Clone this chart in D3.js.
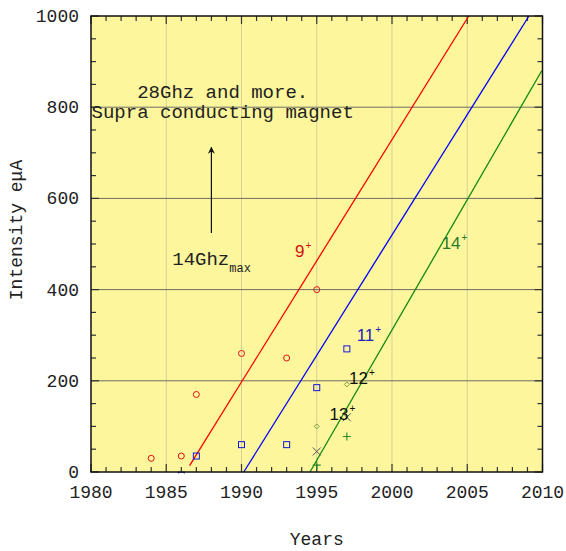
<!DOCTYPE html>
<html>
<head>
<meta charset="utf-8">
<script src="https://cdn.jsdelivr.net/npm/d3@7"></script>
<style>
  body { margin: 0; background: #fff; }
  text { font-family: "Liberation Mono", "Courier New", monospace; }
</style>
</head>
<body>
<div id="chart"></div>
<script>
// measured points (year, intensity eμA)
const redCircles = [[1984, 30], [1986, 35], [1987, 170], [1990, 260], [1993, 250], [1995, 400]];
const blueSquares = [[1986, -7], [1987, 35], [1990, 60], [1993, 60], [1995, 185], [1997, 270]];
const greenDiamonds = [[1995, 100], [1997, 192]];
const greenPlus = [[1995, 15], [1997, 78]];
const grayCross = [[1995, 45], [1997, 120]];

// trend lines (endpoints)
const redFit = [[1986.55, 14], [2005.1, 1000]];
const blueFit = [[1990.15, 0], [2009.1, 1000]];
const greenFit = [[1994.55, 0], [2009.95, 880]];

// charge state labels
const chargeLabels = [
  { q: "9", x: 1993.55, y: 472, color: "#cc1111" },
  { q: "11", x: 1997.65, y: 288, color: "#2222bb" },
  { q: "12", x: 1997.15, y: 193, color: "#111" },
  { q: "13", x: 1995.85, y: 114, color: "#111" },
  { q: "14", x: 2003.3, y: 489, color: "#2a7a2a" }
];

const xTicks = [1980, 1985, 1990, 1995, 2000, 2005, 2010];
const yTicks = [0, 200, 400, 600, 800, 1000];

const W = 566, H = 551;
const x = d3.scaleLinear().domain([1980, 2010]).range([91, 542.5]);
const y = d3.scaleLinear().domain([0, 1000]).range([472, 16]);

const svg = d3.select("#chart").append("svg")
    .attr("width", W).attr("height", H);

// plot background
svg.append("rect")
    .attr("x", x(1980)).attr("y", y(1000))
    .attr("width", x(2010) - x(1980)).attr("height", y(0) - y(1000))
    .style("fill", "#fdf69c");

svg.append("clipPath").attr("id", "clip")
  .append("rect")
    .attr("x", x(1980)).attr("y", y(1000))
    .attr("width", x(2010) - x(1980)).attr("height", y(0) - y(1000) + 1.5);

// grid
svg.append("g").selectAll("line")
    .data(xTicks.slice(1, -1)).enter().append("line")
    .attr("x1", d => x(d)).attr("x2", d => x(d))
    .attr("y1", y(0)).attr("y2", y(1000))
    .style("stroke", "#d6cf9a").style("stroke-width", 1);

svg.append("g").selectAll("line")
    .data(yTicks.slice(1, -1)).enter().append("line")
    .attr("x1", x(1980)).attr("x2", x(2010))
    .attr("y1", d => y(d)).attr("y2", d => y(d))
    .style("stroke", "#6e6e66").style("stroke-width", 1);

// ticks (inside, all four sides)
const xMinor = d3.range(1980, 2011, 1);
const yMinor = d3.range(0, 1001, 50);
const ticks = svg.append("g").style("stroke", "#333").style("stroke-width", 1.2);
xMinor.forEach(d => {
  const len = d % 5 === 0 ? 8 : 5;
  ticks.append("line").attr("x1", x(d)).attr("x2", x(d)).attr("y1", y(0)).attr("y2", y(0) - len);
  ticks.append("line").attr("x1", x(d)).attr("x2", x(d)).attr("y1", y(1000)).attr("y2", y(1000) + len);
});
yMinor.forEach(d => {
  const len = d % 200 === 0 ? 8 : 5;
  ticks.append("line").attr("x1", x(1980)).attr("x2", x(1980) + len).attr("y1", y(d)).attr("y2", y(d));
  ticks.append("line").attr("x1", x(2010)).attr("x2", x(2010) - len).attr("y1", y(d)).attr("y2", y(d));
});

// trend lines
const line = d3.line().x(d => x(d[0])).y(d => y(d[1]));
const fits = [[redFit, "#ff0000"], [blueFit, "#0000ff"], [greenFit, "#118811"]];
svg.append("g").selectAll("path")
    .data(fits).enter().append("path")
    .attr("d", d => line(d[0]))
    .style("fill", "none")
    .style("stroke", d => d[1])
    .style("stroke-width", 1.3);

// markers
const pts = svg.append("g").attr("clip-path", "url(#clip)");
pts.selectAll(".c").data(redCircles).enter().append("circle")
    .attr("cx", d => x(d[0])).attr("cy", d => y(d[1])).attr("r", 3)
    .style("fill", "none").style("stroke", "#dd1111").style("stroke-width", 1);
pts.selectAll(".s").data(blueSquares).enter().append("rect")
    .attr("x", d => x(d[0]) - 3).attr("y", d => y(d[1]) - 3)
    .attr("width", 6).attr("height", 6)
    .style("fill", "none").style("stroke", "#1515dd").style("stroke-width", 1);
pts.selectAll(".d").data(greenDiamonds).enter().append("path")
    .attr("d", d => `M${x(d[0])},${y(d[1]) - 2.5}l2.5,2.5l-2.5,2.5l-2.5,-2.5z`)
    .style("fill", "none").style("stroke", "#6a9a3a").style("stroke-width", 0.9);
pts.selectAll(".p").data(greenPlus).enter().append("path")
    .attr("d", d => `M${x(d[0]) - 4},${y(d[1])}h8M${x(d[0])},${y(d[1]) - 4}v8`)
    .style("stroke", "#2a8a2a").style("stroke-width", 1.1);
pts.selectAll(".x").data(grayCross).enter().append("path")
    .attr("d", d => `M${x(d[0]) - 4},${y(d[1]) - 4}l8,8M${x(d[0]) - 4},${y(d[1]) + 4}l8,-8`)
    .style("stroke", "#555").style("stroke-width", 1);

// charge labels
const cl = svg.append("g").selectAll("text")
    .data(chargeLabels).enter().append("text")
    .attr("x", d => x(d.x)).attr("y", d => y(d.y))
    .style("font-family", "Liberation Sans, Arial, sans-serif")
    .style("font-size", "17px")
    .style("fill", d => d.color);
cl.append("tspan").text(d => d.q);
cl.append("tspan").text("+").attr("dx", 1).attr("dy", -8).style("font-size", "10px");

// annotations
const ann = svg.append("g").style("font-size", "19px").style("fill", "#222");
ann.append("text").attr("x", x(1988.75)).attr("y", y(820))
    .attr("text-anchor", "middle").text("28Ghz and more.");
ann.append("text").attr("x", x(1988.75)).attr("y", y(776))
    .attr("text-anchor", "middle").text("Supra conducting magnet");
const t14 = ann.append("text").attr("x", x(1985.4)).attr("y", y(454));
t14.append("tspan").text("14Ghz");
t14.append("tspan").text("max").attr("dy", 7).style("font-size", "12px");

svg.append("defs").append("marker")
    .attr("id", "arrow").attr("viewBox", "0 0 10 10")
    .attr("refX", 9).attr("refY", 5)
    .attr("markerWidth", 7).attr("markerHeight", 11)
    .attr("markerUnits", "userSpaceOnUse")
    .attr("orient", "auto")
  .append("path").attr("d", "M0,0L10,5L0,10L3,5z").style("fill", "#111");
svg.append("line")
    .attr("x1", x(1988)).attr("x2", x(1988))
    .attr("y1", y(524)).attr("y2", y(712))
    .style("stroke", "#111").style("stroke-width", 1.2)
    .attr("marker-end", "url(#arrow)");

// frame
svg.append("rect")
    .attr("x", x(1980)).attr("y", y(1000))
    .attr("width", x(2010) - x(1980)).attr("height", y(0) - y(1000))
    .style("fill", "none").style("stroke", "#111").style("stroke-width", 1.5);

// tick labels
svg.append("g").selectAll("text")
    .data(xTicks).enter().append("text")
    .attr("x", d => x(d)).attr("y", 498)
    .attr("text-anchor", "middle")
    .style("font-size", "18px").style("fill", "#222")
    .text(d => d);
svg.append("g").selectAll("text")
    .data(yTicks).enter().append("text")
    .attr("x", 79).attr("y", d => y(d) + 6)
    .attr("text-anchor", "end")
    .style("font-size", "18px").style("fill", "#222")
    .text(d => d);

// axis titles
svg.append("text")
    .attr("x", (x(1980) + x(2010)) / 2).attr("y", 545)
    .attr("text-anchor", "middle")
    .style("font-size", "18px").style("fill", "#222")
    .text("Years");
svg.append("text")
    .attr("transform", "translate(22,230) rotate(-90)")
    .attr("text-anchor", "middle")
    .style("font-size", "18px").style("fill", "#222")
    .text("Intensity eμA");
</script>
</body>
</html>
